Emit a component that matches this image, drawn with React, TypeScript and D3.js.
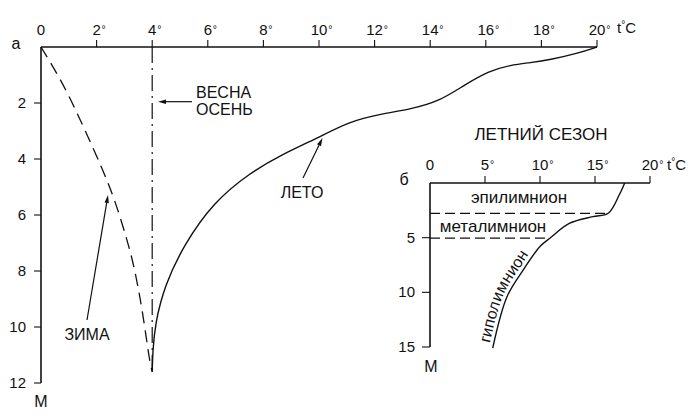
import React from "react";
import * as d3 from "d3";

// ---- data ----
const mainTempTicks = [0, 2, 4, 6, 8, 10, 12, 14, 16, 18, 20];
const mainDepthTicks = [2, 4, 6, 8, 10, 12];
// [temperature °C, depth m]
const winter: [number, number][] = [
  [0, 0], [0.8, 1.3], [1.53, 2.85], [2.23, 4.4], [2.67, 5.5], [3.1, 6.9],
  [3.37, 7.9], [3.68, 9.6], [3.9, 11.2], [4.0, 11.6],
];
const summer: [number, number][] = [
  [4.0, 11.6], [4.02, 10.9], [4.1, 9.9], [4.45, 8.5], [5.15, 7.05], [6.2, 5.55],
  [7.5, 4.5], [8.7, 3.82], [9.9, 3.28], [11.1, 2.65], [12.3, 2.38], [13.3, 2.22],
  [14.3, 1.95], [15.2, 1.38], [16.1, 0.86], [16.9, 0.64], [17.6, 0.56],
  [18.3, 0.46], [19.3, 0.23], [20, 0],
];
const springAutumnTemp = 4;
const springAutumnDepth = 11.6;

const insetTempTicks = [0, 5, 10, 15, 20];
const insetDepthTicks = [5, 10, 15];
const insetSummer: [number, number][] = [
  [17.7, 0], [17.2, 1.1], [16.2, 2.77], [14.8, 3.08], [12.7, 3.68],
  [10.9, 5.05], [10.0, 5.8], [8.48, 7.95], [7.0, 10.4], [5.7, 15.1],
];
const epiBottom = 2.77;
const metaBottom = 5.05;

const FONT = "'Liberation Sans', Arial, Helvetica, sans-serif";
const INK = "#111";

function DegLabel({ x, y, num, fs, deg }: { x: number; y: number; num: string; fs: number; deg: boolean }) {
  const w = num.length * fs * 0.556;
  return (
    <g>
      <text x={x} y={y} textAnchor="middle" fontSize={fs} fill={INK}>{num}</text>
      {deg && (
        <text x={x + w / 2 + 0.8} y={y - 2} fontSize={fs * 0.7} fill={INK}>°</text>
      )}
    </g>
  );
}

function Arrow({ x1, y1, x2, y2 }: { x1: number; y1: number; x2: number; y2: number }) {
  const ang = Math.atan2(y2 - y1, x2 - x1);
  const L = 8, W = 2.2;
  const bx = x2 - L * Math.cos(ang), by = y2 - L * Math.sin(ang);
  const px = -Math.sin(ang) * W, py = Math.cos(ang) * W;
  return (
    <g>
      <line x1={x1} y1={y1} x2={bx} y2={by} stroke={INK} strokeWidth={1.2} />
      <path d={`M${x2},${y2}L${bx + px},${by + py}L${bx - px},${by - py}Z`} fill={INK} />
    </g>
  );
}

export default function App() {
  const x = d3.scaleLinear().domain([0, 20]).range([41, 597]);
  const y = d3.scaleLinear().domain([0, 12]).range([47, 383]);
  const xi = d3.scaleLinear().domain([0, 20]).range([430, 650]);
  const yi = d3.scaleLinear().domain([0, 15]).range([183, 347]);

  const lineMain = d3.line<[number, number]>()
    .x((d) => x(d[0])).y((d) => y(d[1]))
    .curve(d3.curveBasis);
  const lineInset = d3.line<[number, number]>()
    .x((d) => xi(d[0])).y((d) => yi(d[1]))
    .curve(d3.curveCatmullRom.alpha(0.5));

  const hypo = insetSummer.filter((d) => d[1] >= 5).slice().reverse();

  return (
    <svg width={700} height={420} style={{ position: "absolute", left: 0, top: 0, background: "#fff" }}
      fontFamily={FONT}>
      <rect x={0} y={0} width={700} height={420} fill="#fff" />
      {/* ---------- main chart ---------- */}
      <line x1={x(0)} y1={y(0)} x2={x(20)} y2={y(0)} stroke={INK} strokeWidth={1.6} />
      <line x1={x(0)} y1={y(0)} x2={x(0)} y2={y(12)} stroke={INK} strokeWidth={1.6} />
      {mainTempTicks.map((t) => (
        <g key={"mt" + t}>
          {t > 0 && <line x1={x(t)} y1={y(0) - 7} x2={x(t)} y2={y(0)} stroke={INK} strokeWidth={1.1} />}
          <DegLabel x={x(t)} y={35} num={String(t)} fs={15} deg={t > 0} />
        </g>
      ))}
      {mainDepthTicks.map((d) => (
        <g key={"md" + d}>
          <line x1={x(0) - 7} y1={y(d)} x2={x(0)} y2={y(d)} stroke={INK} strokeWidth={1.1} />
          <text x={26} y={y(d) + 5} textAnchor="end" fontSize={15} fill={INK}>{d}</text>
        </g>
      ))}
      <text x={16} y={49} textAnchor="middle" fontSize={16} fill={INK}>а</text>
      <text x={41} y={407} textAnchor="middle" fontSize={16} fill={INK}>М</text>
      <text x={617} y={33} fontSize={15} fill={INK}>
        t<tspan fontSize={10} dy={-5}>°</tspan><tspan dy={5}>C</tspan>
      </text>

      {/* spring / autumn */}
      <line x1={x(springAutumnTemp)} y1={y(0)} x2={x(springAutumnTemp)} y2={y(springAutumnDepth)}
        stroke={INK} strokeWidth={1.2} strokeDasharray="16,5,2,5" />
      {/* winter */}
      <path d={lineMain(winter) || ""} fill="none" stroke={INK} strokeWidth={1.3} strokeDasharray="12,7" />
      {/* summer */}
      <path d={lineMain(summer) || ""} fill="none" stroke={INK} strokeWidth={1.4} />

      <Arrow x1={192} y1={101.7} x2={158} y2={101.7} />
      <text x={196} y={98} fontSize={16} fill={INK}>ВЕСНА</text>
      <text x={196} y={114.5} fontSize={16} fill={INK}>ОСЕНЬ</text>

      <Arrow x1={87} y1={320} x2={108} y2={195} />
      <text x={87} y={340} textAnchor="middle" fontSize={16} fill={INK}>ЗИМА</text>

      <Arrow x1={303} y1={178} x2={322.5} y2={138} />
      <text x={302} y={198} textAnchor="middle" fontSize={16} fill={INK}>ЛЕТО</text>

      {/* ---------- inset ---------- */}
      <text x={541} y={140} textAnchor="middle" fontSize={17} fill={INK}>ЛЕТНИЙ СЕЗОН</text>
      <line x1={xi(0)} y1={yi(0)} x2={xi(20)} y2={yi(0)} stroke={INK} strokeWidth={1.6} />
      <line x1={xi(0)} y1={yi(0)} x2={xi(0)} y2={yi(15)} stroke={INK} strokeWidth={1.6} />
      {insetTempTicks.map((t) => (
        <g key={"it" + t}>
          {t > 0 && <line x1={xi(t)} y1={yi(0) - 7} x2={xi(t)} y2={yi(0)} stroke={INK} strokeWidth={1.1} />}
          <DegLabel x={xi(t)} y={170} num={String(t)} fs={15} deg={t > 0} />
        </g>
      ))}
      {insetDepthTicks.map((d) => (
        <g key={"id" + d}>
          <line x1={xi(0) - 8} y1={yi(d)} x2={xi(0)} y2={yi(d)} stroke={INK} strokeWidth={1.1} />
          <text x={415} y={yi(d) + 5} textAnchor="end" fontSize={15} fill={INK}>{d}</text>
        </g>
      ))}
      <text x={404} y={185} textAnchor="middle" fontSize={16} fill={INK}>б</text>
      <text x={431} y={372} textAnchor="middle" fontSize={16} fill={INK}>М</text>
      <text x={667} y={170} fontSize={15} fill={INK}>
        t<tspan fontSize={10} dy={-5}>°</tspan><tspan dy={5}>C</tspan>
      </text>

      <line x1={xi(0)} y1={yi(epiBottom)} x2={xi(16.2)} y2={yi(epiBottom)} stroke={INK} strokeWidth={1.2} strokeDasharray="10,5" />
      <line x1={xi(0)} y1={yi(metaBottom)} x2={xi(10.9)} y2={yi(metaBottom)} stroke={INK} strokeWidth={1.2} strokeDasharray="10,5" />
      <path d={lineInset(insetSummer) || ""} fill="none" stroke={INK} strokeWidth={1.4} />
      <path id="hypoPath" d={lineInset(hypo) || ""} fill="none" stroke="none" />

      <text x={519} y={203} textAnchor="middle" fontSize={17} fill={INK}>эпилимнион</text>
      <text x={493} y={231.5} textAnchor="middle" fontSize={17} fill={INK}>металимнион</text>
      <text fontSize={16} fill={INK} dy={-4}>
        <textPath href="#hypoPath" startOffset={4}>гиполимнион</textPath>
      </text>
    </svg>
  );
}
